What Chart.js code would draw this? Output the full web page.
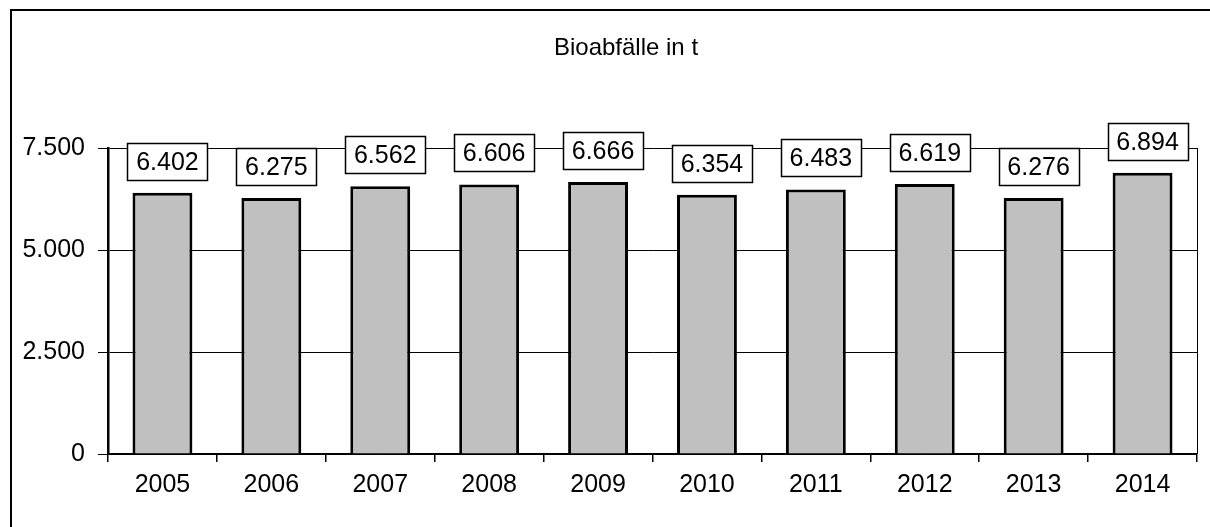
<!DOCTYPE html>
<html>
<head>
<meta charset="utf-8">
<script src="https://cdn.jsdelivr.net/npm/chart.js@4.4.1/dist/chart.umd.min.js"></script>
<style>
  html, body { margin: 0; padding: 0; background: #fff; }
  #wrap { width: 1210px; height: 527px; position: relative; }
</style>
</head>
<body>
<div id="wrap"><canvas id="bioChart" width="1210" height="527"></canvas></div>
<script>
// Data
const years = ['2005', '2006', '2007', '2008', '2009', '2010', '2011', '2012', '2013', '2014'];
const tonnes = [6402, 6275, 6562, 6606, 6666, 6354, 6483, 6619, 6276, 6894];
const yTicks = [0, 2500, 5000, 7500];
const yTickLabels = ['0', '2.500', '5.000', '7.500'];
const chartTitle = 'Bioabfälle in t';

const FONT = "'Liberation Sans', Arial, sans-serif";

// German thousands separator, e.g. 6402 -> "6.402"
function fmt(v) {
  return String(v).replace(/\B(?=(\d{3})+(?!\d))/g, '.');
}

// Outer frame, title, right plot border and the boxed value labels
const decorations = {
  id: 'decorations',
  beforeDraw(chart) {
    const c = chart.ctx;
    c.save();
    c.fillStyle = '#fff';
    c.fillRect(0, 0, chart.width, chart.height);
    c.strokeStyle = '#000';
    c.lineWidth = 2;
    c.beginPath();
    c.moveTo(11, chart.height + 5);
    c.lineTo(11, 10);
    c.lineTo(chart.width + 5, 10);
    c.stroke();
    c.restore();
  },
  afterDraw(chart) {
    const c = chart.ctx;
    const area = chart.chartArea;
    c.save();
    // right edge of plot area
    c.strokeStyle = '#000';
    c.lineWidth = 1;
    c.beginPath();
    c.moveTo(area.right + 0.5, area.top);
    c.lineTo(area.right + 0.5, area.bottom);
    c.stroke();

    // title
    c.fillStyle = '#000';
    c.font = '24px ' + FONT;
    c.textAlign = 'center';
    c.textBaseline = 'middle';
    c.fillText(chartTitle, 626, 48);

    // value labels in boxes
    const meta = chart.getDatasetMeta(0);
    c.font = '25px ' + FONT;
    meta.data.forEach((bar, i) => {
      const w = 80, h = 37;
      const cx = bar.x + 5;
      const bottom = bar.y - 13;
      const x0 = Math.round(cx - w / 2) + 0.5;
      const y0 = Math.round(bottom - h) + 0.5;
      c.fillStyle = '#fff';
      c.fillRect(x0, y0, w, h);
      c.strokeStyle = '#000';
      c.lineWidth = 1.5;
      c.strokeRect(x0, y0, w, h);
      c.fillStyle = '#000';
      c.fillText(fmt(tonnes[i]), cx, y0 + h / 2 + 1);
    });
    c.restore();
  }
};

new Chart(document.getElementById('bioChart').getContext('2d'), {
  type: 'bar',
  data: {
    labels: years,
    datasets: [{
      data: tonnes,
      backgroundColor: '#c0c0c0',
      borderColor: '#000',
      borderWidth: 3,
      barPercentage: 0.55,
      categoryPercentage: 1.0
    }]
  },
  options: {
    responsive: false,
    animation: false,
    layout: { padding: { top: 148, right: 13, bottom: 0, left: 0 } },
    plugins: {
      legend: { display: false },
      tooltip: { enabled: false },
      title: { display: false }
    },
    scales: {
      x: {
        grid: { offset: true, drawOnChartArea: false, drawTicks: true, tickLength: 8, color: '#000', lineWidth: 1.5 },
        border: { color: '#000', width: 1.5 },
        ticks: { color: '#000', font: { family: FONT, size: 25 }, padding: 8, maxRotation: 0 },
        afterFit(scale) { scale.height = 73; }
      },
      y: {
        min: 0,
        max: 7500,
        afterBuildTicks(scale) { scale.ticks = yTicks.map(v => ({ value: v })); },
        grid: { color: '#000', lineWidth: 1, drawTicks: true, tickLength: 10 },
        border: { color: '#000', width: 2.5 },
        ticks: {
          color: '#000',
          font: { family: FONT, size: 25 },
          padding: 13,
          callback(value) { return yTickLabels[yTicks.indexOf(value)]; }
        },
        afterFit(scale) { scale.width = 108; }
      }
    }
  },
  plugins: [decorations]
});
</script>
</body>
</html>
